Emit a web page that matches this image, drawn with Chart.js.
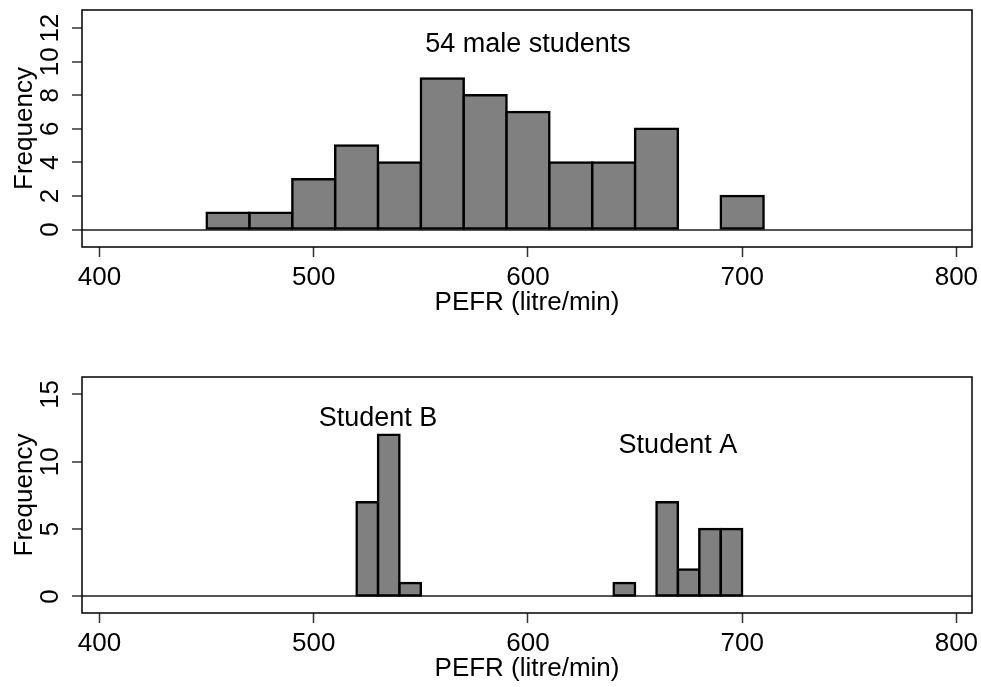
<!DOCTYPE html>
<html>
<head>
<meta charset="utf-8">
<script src="https://cdn.jsdelivr.net/npm/chart.js@4.4.1/dist/chart.umd.min.js"></script>
<style>
  body { margin: 0; background: #fff; }
  canvas { position: absolute; left: 0; }
  #topChart { top: 0; }
  #bottomChart { top: 340px; }
</style>
</head>
<body>
<canvas id="topChart" width="981" height="318"></canvas>
<canvas id="bottomChart" width="981" height="344"></canvas>
<script>
// histogram bins (left edge) and counts
const topBinStart = [450, 470, 490, 510, 530, 550, 570, 590, 610, 630, 650, 690]
const topCounts = [1, 1, 3, 5, 4, 9, 8, 7, 4, 4, 6, 2]
const topBinWidth = 20

const bottomBinStart = [520, 530, 540, 640, 660, 670, 680, 690]
const bottomCounts = [7, 12, 1, 1, 7, 2, 5, 5]
const bottomBinWidth = 10

// tick labels
const xTickValues = [400, 500, 600, 700, 800]
const topYTicks = [0, 2, 4, 6, 8, 10, 12]
const bottomYTicks = [0, 5, 10, 15]

// text notes inside the plots
const topNotes = ['54 male students']
const topNoteX = [600]
const topNoteY = [11]
const bottomNotes = ['Student B', 'Student A']
const bottomNoteX = [530, 670]
const bottomNoteY = [13.2, 11.2]

const fontFamily = '"Liberation Sans", Arial, sans-serif'
const axisFont = { family: fontFamily, size: 26, lineHeight: 1.2 }

// frame round the plot region + text notes
const framePlugin = {
    id: 'frame',
    afterDraw(chart, args, opts) {
        const ctx = chart.ctx
        const a = chart.chartArea
        ctx.save()
        ctx.strokeStyle = '#000'
        ctx.lineWidth = 1.5
        ctx.strokeRect(a.left, a.top, a.right - a.left, a.bottom - a.top)
        ctx.fillStyle = '#000'
        ctx.font = '27px ' + fontFamily
        ctx.textAlign = 'center'
        ctx.textBaseline = 'middle'
        const xs = chart.scales.x, ys = chart.scales.y
        opts.texts.forEach(function(t, i) {
            ctx.fillText(t, xs.getPixelForValue(opts.xs[i]), ys.getPixelForValue(opts.ys[i]))
        })
        ctx.restore()
    }
}

function makeHist(canvasId, binStart, counts, binWidth, yTicks, yMin, yMax, padTop, xHeight, notes) {
    const points = binStart.map(function(s, i) {
        return { x: s + binWidth / 2, y: counts[i] }
    })
    const config = {
        type: 'bar',
        data: {
            datasets: [{
                data: points,
                backgroundColor: '#808080',
                borderColor: '#000',
                borderWidth: 2.5,
                borderSkipped: false,
                inflateAmount: 1.25,
                barPercentage: 1,
                categoryPercentage: 1
            }]
        },
        options: {
            responsive: false,
            animation: false,
            layout: { padding: { top: padTop, right: 9, bottom: 0, left: 0 } },
            plugins: {
                legend: { display: false },
                tooltip: { enabled: false },
                frame: { texts: notes.texts, xs: notes.xs, ys: notes.ys }
            },
            scales: {
                x: {
                    type: 'linear',
                    min: 391.8,
                    max: 807.3,
                    offset: false,
                    afterBuildTicks: function(s) { s.ticks = xTickValues.map(v => ({ value: v })) },
                    afterFit: function(s) { s.height = xHeight; s.paddingLeft = 0; s.paddingRight = 0 },
                    grid: { drawOnChartArea: false, offset: false, tickLength: 10, tickColor: '#333', tickWidth: 1.5 },
                    border: { display: false },
                    ticks: { padding: 5, font: axisFont, color: '#000', maxRotation: 0, autoSkip: false },
                    title: { display: true, text: 'PEFR (litre/min)', font: axisFont, color: '#000', padding: 0 }
                },
                y: {
                    min: yMin,
                    max: yMax,
                    afterBuildTicks: function(s) { s.ticks = yTicks.map(v => ({ value: v })) },
                    afterFit: function(s) { s.width = 82; s.paddingTop = 0; s.paddingBottom = 0 },
                    grid: {
                        color: function(c) { return c.tick && c.tick.value === 0 ? '#555' : 'rgba(0,0,0,0)' },
                        lineWidth: 2,
                        tickLength: 10,
                        tickColor: '#333',
                        tickWidth: 1.5
                    },
                    border: { display: false },
                    ticks: { minRotation: 90, maxRotation: 90, crossAlign: 'center', padding: 7, font: axisFont, color: '#000' },
                    title: { display: true, text: 'Frequency', font: axisFont, color: '#000', padding: { top: 9, bottom: 0 } }
                }
            }
        },
        plugins: [framePlugin]
    }
    return new Chart(document.getElementById(canvasId), config)
}

makeHist('topChart', topBinStart, topCounts, topBinWidth, topYTicks, -1.04, 13.08, 10, 71,
    { texts: topNotes, xs: topNoteX, ys: topNoteY })
makeHist('bottomChart', bottomBinStart, bottomCounts, bottomBinWidth, bottomYTicks, -1.23, 16.29, 37, 71,
    { texts: bottomNotes, xs: bottomNoteX, ys: bottomNoteY })
</script>
</body>
</html>
